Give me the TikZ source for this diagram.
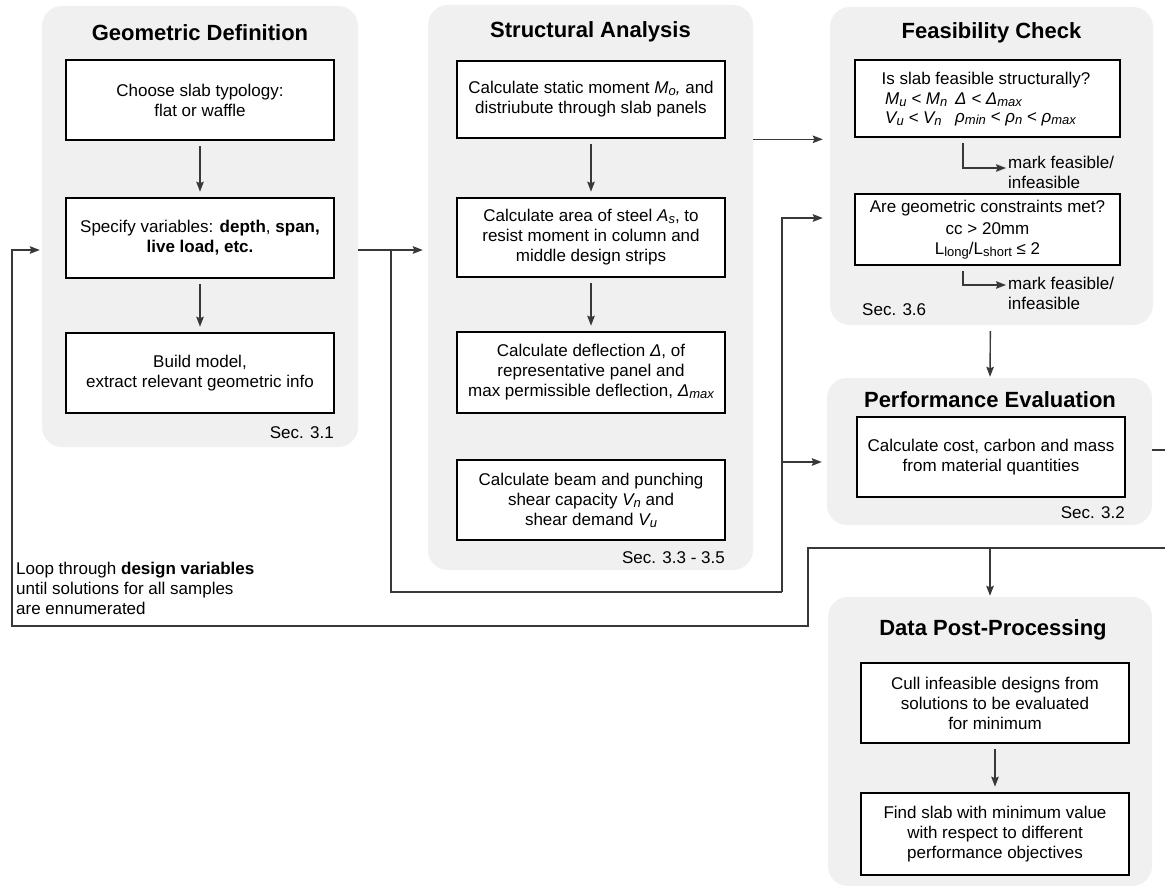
\documentclass[tikz,border=0pt]{standalone}
\usepackage{fontspec}
\setmainfont{Liberation Sans}
\usetikzlibrary{arrows.meta,calc}
\definecolor{panelgray}{HTML}{F0F0F0}
\definecolor{linegray}{HTML}{383838}
\newcommand\bodyfont{\fontsize{17}{20}\selectfont}
\newcommand\titlefont{\fontsize{22}{26}\selectfont\bfseries}
\newcommand\lsub[1]{\raisebox{-0.12em}{\fontsize{13}{13}\selectfont #1}}
\begin{document}
\begin{tikzpicture}[x=1pt,y=-1pt,
  panel/.style={fill=panelgray, rounded corners=20pt, inner sep=0pt},
  box/.style={draw=black, line width=2.6pt, fill=white, inner sep=0pt, align=center, font=\bodyfont},
  ttl/.style={font=\titlefont, inner sep=0pt},
  sec/.style={font=\bodyfont, inner sep=0pt},
  note/.style={font=\bodyfont, inner sep=0pt, align=left},
  cond/.style={font=\bodyfont\itshape, inner sep=0pt, anchor=west},
  conn/.style={draw=linegray, line width=1.4pt},
  arr/.style={conn, -{Stealth[length=10pt,width=7.5pt,inset=1.5pt]}}]
\clip (0,0) rectangle (1165,888);
\fill[white] (0,0) rectangle (1165,888);

% panels
\node[panel, minimum width=316pt, minimum height=441pt] (gp) at (200,226.5) {};
\node[panel, minimum width=325pt, minimum height=565pt] (sp) at (590.5,287.5) {};
\node[panel, minimum width=323pt, minimum height=318pt] (fp) at (991.5,166) {};
\node[panel, minimum width=325pt, minimum height=147pt] (pp) at (989.5,451.5) {};
\node[panel, minimum width=324pt, minimum height=289pt] (dp) at (990,741.5) {};

% titles
\node[ttl] (gt) at (200,33) {Geometric Definition};
\node[ttl] (st) at (590.5,32) {Structural Analysis};
\node[ttl] (ft) at (991.5,33) {Feasibility Check};
\node[ttl] (pt) at (990,400) {Performance Evaluation};
\node[ttl] (dt) at (993,630) {Data Post-Processing};

% geometric definition
\node[box, minimum width=268pt, minimum height=80pt] (g1) at (200,100) {Choose slab typology:\\flat or waffle};
\node[box, minimum width=268pt, minimum height=80pt] (g2) at (200,238) {Specify variables: \textbf{depth}, \textbf{span,}\\\textbf{live load, etc.}};
\node[box, minimum width=268pt, minimum height=80pt] (g3) at (200,373) {Build model,\\extract relevant geometric info};
\node[sec, anchor=east] (gs) at (334,433) {Sec. 3.1};

% structural analysis
\node[box, minimum width=268pt, minimum height=77pt] (s1) at (591,99.5) {Calculate static moment \textit{M\lsub{o},} and\\distriubute through slab panels};
\node[box, minimum width=268pt, minimum height=79pt] (s2) at (591,237.5) {Calculate area of steel \textit{A\lsub{s}}, to\\resist moment in column and\\middle design strips};
\node[box, minimum width=268pt, minimum height=81pt] (s3) at (591,372.5) {Calculate deflection \textit{Δ}, of\\representative panel and\\max permissible deflection, \textit{Δ\lsub{max}}};
\node[box, minimum width=268pt, minimum height=80pt] (s4) at (591,500) {Calculate beam and punching\\shear capacity \textit{V\lsub{n}} and\\shear demand \textit{V\lsub{u}}};
\node[sec, anchor=east] (ss) at (725,558) {Sec. 3.3 - 3.5};

% feasibility check
\node[box, minimum width=265pt, minimum height=77pt] (f1) at (987.5,98.5) {};
\node[sec] (f1t) at (986,80) {Is slab feasible structurally?};
\node[cond] (c1) at (885,100) {M\lsub{u} < M\lsub{n}};
\node[cond] (c2) at (955,100) {Δ < Δ\lsub{max}};
\node[cond] (c3) at (885,119) {V\lsub{u} < V\lsub{n}};
\node[cond] (c4) at (955,119) {ρ\lsub{min} < ρ\lsub{n} < ρ\lsub{max}};
\node[box, minimum width=265pt, minimum height=71pt] (f2) at (987.5,229.5) {Are geometric constraints met?\\[2pt]cc > 20mm\\L\lsub{long}/L\lsub{short} ≤ 2};
\node[note, anchor=north west] (m1) at (1008,156) {mark feasible/\\infeasible};
\node[note, anchor=north west] (m2) at (1008,277) {mark feasible/\\infeasible};
\node[sec, anchor=west] (fs) at (862,310) {Sec. 3.6};

% performance evaluation
\node[box, minimum width=268pt, minimum height=80pt] (p1) at (991,457) {Calculate cost, carbon and mass\\from material quantities};
\node[sec, anchor=east] (ps) at (1125,513) {Sec. 3.2};

% data post-processing
\node[box, minimum width=268pt, minimum height=80pt] (d1) at (995,703) {Cull infeasible designs from\\solutions to be evaluated\\for minimum};
\node[box, minimum width=268pt, minimum height=82pt] (d2) at (995,834) {Find slab with minimum value\\with respect to different\\performance objectives};

% loop note
\node[note, anchor=north west] (ln) at (16,562) {Loop through \textbf{design variables}\\until solutions for all samples\\are ennumerated};

% helper coordinates
\coordinate (r250) at (0,250);
\coordinate (r218) at (0,218);
\coordinate (r450) at (0,450);
\coordinate (r548) at (0,548);
\coordinate (jA) at (391,250);
\coordinate (jB) at (782,592);
\coordinate (jC) at (782,462);
\coordinate (oR1) at (1190,450);
\coordinate (oR2) at (1190,548);
\coordinate (jD) at (808,548);
\coordinate (cE) at (808,626);
\coordinate (cF) at (12,626);

% internal arrows
\draw[arr, shorten <=5pt, shorten >=5pt] (g1) -- (g2);
\draw[arr, shorten <=5pt, shorten >=5pt] (g2) -- (g3);
\draw[arr, shorten <=5pt, shorten >=5pt] (s1) -- (s2);
\draw[arr, shorten <=5pt, shorten >=5pt] (s2) -- (s3);
\draw[arr, shorten <=5pt, shorten >=5pt] (d1) -- (d2);
\draw[arr, shorten <=6pt, shorten >=1pt] (fp) -- (pp);

% mark feasible elbows
\draw[arr, shorten >=2pt] ([xshift=-24.5pt,yshift=-5pt]f1.south) |- ([yshift=-12pt]m1.north west);
\draw[arr, shorten >=2pt] ([xshift=-24.5pt,yshift=-5pt]f2.south) |- ([yshift=-8pt]m2.north west);

% main connectors
\draw[arr, shorten >=5pt] (gp.east |- r250) -- (sp.west |- r250);
\draw[conn] (jA) |- (jB);
\draw[arr, shorten >=7pt] (jB) |- (fp.west |- r218);
\draw[arr, shorten >=5pt] (jC) -- (pp.west |- jC);
\draw[arr, shorten >=7pt] (sp.east |- s1.south) -- (fp.west |- s1.south);

% loop back
\draw[arr, shorten >=2pt] (pp.east |- r450) -- (oR1) -- (oR2) -- (jD) -- (cE) -- (cF) |- (gp.west |- r250);
\draw[arr, shorten >=1pt] (dp.north |- r548) -- (dp.north);
\end{tikzpicture}
\end{document}
